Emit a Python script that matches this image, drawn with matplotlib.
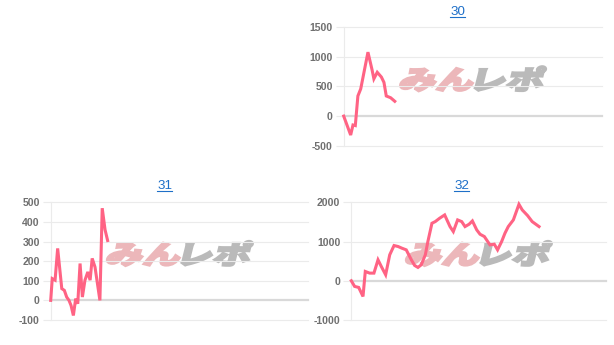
import matplotlib
matplotlib.use("Agg")
import matplotlib.pyplot as plt
from matplotlib.textpath import TextPath
from matplotlib.patches import PathPatch
from matplotlib.font_manager import FontProperties
from matplotlib.transforms import Affine2D
from matplotlib.lines import Line2D

W, H = 614, 345

# ---- data (x: position along the game axis, 0..100 of full range) ----
titles = ["30", "31", "32"]

x_30 = [0, 2.7, 3.6, 4.5, 5.5, 6.6, 9.4, 11.0, 11.7, 13.0, 14.6, 15.6, 16.5, 18.2, 19.8]
y_30 = [0, -320, -150, -160, 340, 460, 1080, 780, 630, 740, 660, 570, 340, 310, 250]

x_31 = [0, 0.6, 1.7, 2.7, 4.3, 5.3, 6.2, 7.1, 7.9, 8.8, 9.7, 10.5, 11.4, 12.3,
        13.3, 14.4, 15.3, 16.1, 17.2, 19.1, 20.0, 21.1, 22.1]
y_31 = [0, 111, 103, 265, 60, 51, 17, 0, -26, -77, 9, -17, 188, 17,
        103, 145, 103, 214, 170, 0, 470, 360, 305]

x_32 = [0, 1.3, 2.9, 4.6, 5.5, 7.2, 8.9, 10.5, 11.8, 13.5, 15.1, 16.8, 18.4, 19.9,
        21.6, 23.6, 24.9, 26.2, 27.5, 29.1, 30.1, 31.7, 33.0, 34.7, 36.7, 38.8,
        40.1, 41.8, 43.4, 44.7, 46.3, 47.6, 49.3, 50.6, 52.3, 54.5, 56.2, 57.5,
        59.1, 60.4, 61.7, 63.7, 65.9, 67.2, 69.3, 71.1, 73.8]
y_32 = [0, -144, -170, -400, 237, 195, 195, 534, 364, 153, 661, 898, 873, 830,
        788, 534, 390, 340, 407, 661, 1000, 1466, 1508, 1593, 1678, 1381,
        1254, 1551, 1508, 1381, 1441, 1525, 1297, 1186, 1127, 915, 932, 788,
        1000, 1212, 1381, 1551, 1949, 1805, 1661, 1508, 1381]

yticks_30 = [-500, 0, 500, 1000, 1500]
yticks_31 = [-100, 0, 100, 200, 300, 400, 500]
yticks_32 = [-1000, 0, 1000, 2000]

# ---- layout (pixel boxes: left, right, top, bottom) ----
boxes = [(343.7, 601.7, 27.3, 145.7), (50.7, 308.3, 202.3, 320.0), (351.3, 605.7, 202.3, 320.0)]
title_pos = [(457.7, 11.7), (164.7, 186.0), (461.7, 186.0)]

LINE = "#ff6384"
GRID = "#ebebeb"
ZERO = "#d9d9d9"
TICKC = "#707070"
LINKC = "#1e6fc8"

fig = plt.figure(figsize=(W / 100, H / 100), dpi=100)
fig.patch.set_facecolor("white")

series = [(x_30, y_30, yticks_30), (x_31, y_31, yticks_31), (x_32, y_32, yticks_32)]

jp = FontProperties(family="Noto Sans CJK JP", weight="heavy")


def watermark(cx, cy, w, h):
    parts = [("みん", "#ecb7ba"), ("レポ", "#bababa")]
    paths = [TextPath((0, 0), s, size=100, prop=jp) for s, _ in parts]
    ext = [p.get_extents() for p in paths]
    gap = 8
    total_w = sum(e.width for e in ext) + gap
    hh = max(e.y1 for e in ext) - min(e.y0 for e in ext)
    y0 = min(e.y0 for e in ext)
    sx = w / total_w
    sy = h / hh
    off = 0
    for (s, col), p, e in zip(parts, paths, ext):
        tr = (Affine2D().translate(-e.x0 + off - total_w / 2, -y0 - hh / 2)
              .scale(sx, sy).skew_deg(14, 0)
              .translate(cx, H - cy).scale(1 / W, 1 / H) + fig.transFigure)
        fig.patches.append(PathPatch(p, transform=tr, facecolor=col,
                                     edgecolor=col, linewidth=1.6,
                                     joinstyle="miter", zorder=1))
        off += e.width + gap


axes = []
for (l, r, t, b), (xs, ys, yt) in zip(boxes, series):
    ax = fig.add_axes([l / W, 1 - b / H, (r - l) / W, (b - t) / H])
    ax.set_facecolor("none")
    ax.set_zorder(2)
    ax.set_xlim(0, 100)
    ax.set_ylim(yt[0], yt[-1])
    ax.set_yticks(yt)
    ax.set_yticklabels([str(v) for v in yt])
    ax.set_xticks([])
    for s in ["top", "right", "bottom"]:
        ax.spines[s].set_visible(False)
    ax.spines["left"].set_color(GRID)
    ax.spines["left"].set_linewidth(0.8)
    ax.tick_params(axis="y", length=5.8, width=0.8, color=GRID, pad=2,
                   labelsize=7.6, labelcolor=TICKC)
    for lab in ax.get_yticklabels():
        lab.set_fontfamily("Liberation Sans")
        lab.set_fontweight("bold")
    for v in yt:
        if v == 0:
            ax.axhline(v, color=ZERO, lw=1.6, zorder=1, clip_on=False)
        else:
            ax.axhline(v, color=GRID, lw=0.8, zorder=1, clip_on=False)
    ax.plot(xs, ys, color=LINE, lw=2.2, solid_joinstyle="miter", zorder=3, clip_on=False)
    axes.append(ax)
    cx = (l + r) / 2
    cy = b - 0.565 * (b - t)
    watermark(cx, cy, 142, 25)

texts = []
for (tx, ty), s in zip(title_pos, titles):
    t = fig.text(tx / W, 1 - ty / H, s, ha="center", va="center", fontsize=9.6,
                 color=LINKC, family="Liberation Sans")
    texts.append(t)

fig.canvas.draw()
r = fig.canvas.get_renderer()
for t, (tx, ty) in zip(texts, title_pos):
    bb = t.get_window_extent(r)
    uy = ty + 4.8
    fig.lines.append(Line2D([bb.x0 / W, bb.x1 / W], [1 - uy / H, 1 - uy / H],
                            transform=fig.transFigure, color=LINKC, lw=0.8))

fig.savefig("out.png", dpi=100, facecolor="white")
